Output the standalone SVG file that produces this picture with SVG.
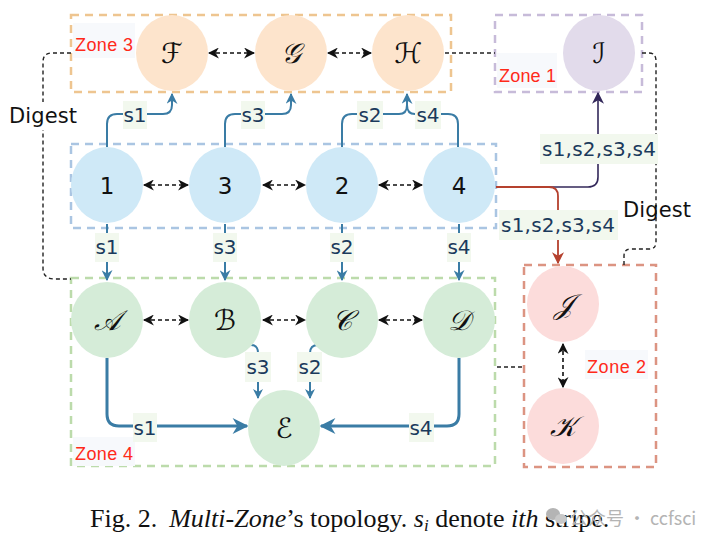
<svg xmlns="http://www.w3.org/2000/svg" width="717" height="544" viewBox="0 0 717 544">
  <style>
    .zone { fill: none; stroke-width: 2.5; stroke-dasharray: 8 6; }
    .zlabel { font-family: "Liberation Sans", "DejaVu Sans", sans-serif; font-size: 18px; fill: #ff2a1a; }
    .zbg { fill: #f7f9fc; }
    .node-o { fill: #fde4cc; }
    .node-p { fill: #e2dbeb; }
    .node-b { fill: #cfe9f7; }
    .node-g { fill: #d5ecd8; }
    .node-r { fill: #fcdcdb; }
    .cal { font-family: "DejaVu Serif", "DejaVu Sans", "Liberation Serif", serif; font-size: 28px; font-style: italic; fill: #111; text-anchor: middle; dominant-baseline: central; }
    .num { font-family: "DejaVu Sans", "Liberation Sans", sans-serif; font-size: 23px; fill: #111; text-anchor: middle; dominant-baseline: central; }
    .lbg { fill: #f2f8ee; }
    .lbl { font-family: "DejaVu Sans", "Liberation Sans", sans-serif; font-size: 20px; fill: #1b3a5c; text-anchor: middle; dominant-baseline: central; }
    .flow { fill: none; stroke: #3a7ca5; stroke-width: 2; }
    .flow-thick { fill: none; stroke: #3a7ca5; stroke-width: 3; }
    .peer { fill: none; stroke: #111; stroke-width: 1.6; stroke-dasharray: 4 3; }
    .digest { fill: none; stroke: #222; stroke-width: 1.4; stroke-dasharray: 4 3; }
    .dtext { font-family: "DejaVu Sans", "Liberation Sans", sans-serif; font-size: 21px; fill: #111; text-anchor: middle; dominant-baseline: central; }
    .caption { font-family: "Liberation Serif", "Times New Roman", serif; font-size: 26px; fill: #111; }
  </style>
  <defs>
    <marker id="ah-blue" viewBox="0 0 10 10" refX="9" refY="5" markerWidth="5.5" markerHeight="5.5" markerUnits="strokeWidth" orient="auto">
      <path d="M0,0 L10,5 L0,10 L3,5 z" fill="#3a7ca5"/>
    </marker>
    <marker id="ah-blue-thick" viewBox="0 0 10 10" refX="9" refY="5" markerWidth="10" markerHeight="10" markerUnits="userSpaceOnUse" orient="auto">
      <path d="M0,0 L10,5 L0,10 L3,5 z" fill="#3a7ca5"/>
    </marker>
    <marker id="ah-blue-big" viewBox="0 0 10 10" refX="9" refY="5" markerWidth="18" markerHeight="16" markerUnits="userSpaceOnUse" orient="auto">
      <path d="M0,0 L10,5 L0,10 L3,5 z" fill="#3a7ca5"/>
    </marker>
    <marker id="ah-purple" viewBox="0 0 10 10" refX="9" refY="5" markerWidth="12" markerHeight="12" markerUnits="userSpaceOnUse" orient="auto">
      <path d="M0,0 L10,5 L0,10 L3,5 z" fill="#33285a"/>
    </marker>
    <marker id="ah-red" viewBox="0 0 10 10" refX="9" refY="5" markerWidth="12" markerHeight="12" markerUnits="userSpaceOnUse" orient="auto">
      <path d="M0,0 L10,5 L0,10 L3,5 z" fill="#b5412e"/>
    </marker>
    <marker id="ah-black" viewBox="0 0 10 10" refX="9" refY="5" markerWidth="11" markerHeight="11" markerUnits="userSpaceOnUse" orient="auto-start-reverse">
      <path d="M0,0 L10,5 L0,10 L3,5 z" fill="#111"/>
    </marker>
  </defs>

  <rect width="717" height="544" fill="#ffffff"/>

  <!-- zone frames -->
  <g id="zones">
    <rect class="zone" x="71" y="15" width="380" height="77" stroke="#eec590"/>
    <rect class="zone" x="495" y="15" width="147" height="77" stroke="#c7bbd9"/>
    <rect class="zone" x="71" y="144" width="425" height="84" stroke="#aac5e2"/>
    <rect class="zone" x="71" y="278" width="424" height="188" stroke="#bcdbab"/>
    <rect class="zone" x="524" y="265" width="132" height="202" stroke="#dc9482"/>
  </g>

  <!-- zone captions -->
  <g id="zone-labels">
    <rect class="zbg" x="73" y="23" width="62" height="35"/>
    <text class="zlabel" x="75" y="51" textLength="58">Zone 3</text>
    <rect class="zbg" x="497" y="53" width="60" height="35"/>
    <text class="zlabel" x="499" y="82" textLength="57">Zone 1</text>
    <rect class="zbg" x="73" y="437" width="62" height="29"/>
    <text class="zlabel" x="75" y="460" textLength="58">Zone 4</text>
    <rect class="zbg" x="585" y="350" width="63" height="29"/>
    <text class="zlabel" x="587" y="373" textLength="59">Zone 2</text>
  </g>

  <!-- connectors -->
  <g id="connectors">
    <!-- digest links -->
    <path class="digest" d="M71,53 H52 Q43,53 43,62 V268 Q43,279 55,279 H71"/>
    <path class="digest" d="M445,53 H495"/>
    <path class="digest" d="M642,53 H649 Q656,53 656,61 V242 Q656,249 649,249 H631 Q624,249 624,256 V265"/>
    <path class="digest" d="M497,367 H524"/>

    <!-- peer links -->
    <path class="peer" d="M209,53 H254" marker-start="url(#ah-black)" marker-end="url(#ah-black)"/>
    <path class="peer" d="M328,53 H371" marker-start="url(#ah-black)" marker-end="url(#ah-black)"/>
    <path class="peer" d="M144,185 H188" marker-start="url(#ah-black)" marker-end="url(#ah-black)"/>
    <path class="peer" d="M263,185 H305" marker-start="url(#ah-black)" marker-end="url(#ah-black)"/>
    <path class="peer" d="M379,185 H422" marker-start="url(#ah-black)" marker-end="url(#ah-black)"/>
    <path class="peer" d="M144,320 H188" marker-start="url(#ah-black)" marker-end="url(#ah-black)"/>
    <path class="peer" d="M263,320 H305" marker-start="url(#ah-black)" marker-end="url(#ah-black)"/>
    <path class="peer" d="M379,320 H422" marker-start="url(#ah-black)" marker-end="url(#ah-black)"/>
    <path class="peer" d="M563,344 V387" marker-start="url(#ah-black)" marker-end="url(#ah-black)"/>

    <!-- stripes up to zone 3 -->
    <path class="flow" d="M107,147 V124 Q107,114 117,114 H163 Q172,114 172,105 V94" marker-end="url(#ah-blue)"/>
    <path class="flow" d="M225,147 V124 Q225,114 235,114 H282 Q291,114 291,105 V94" marker-end="url(#ah-blue)"/>
    <path class="flow" d="M342,147 V124 Q342,114 352,114 H399 Q407,114 407,105 V94" marker-end="url(#ah-blue)"/>
    <path class="flow" d="M458,147 V124 Q458,114 448,114 H415 Q407,114 407,105"/>

    <!-- stripes to zone 1 and zone 2 -->
    <path d="M496,187 H588 Q598,187 598,177 V93" fill="none" stroke="#33285a" stroke-width="1.6" marker-end="url(#ah-purple)"/>
    <path d="M496,187 H549 Q558,187 558,196 V263" fill="none" stroke="#b5412e" stroke-width="1.8" marker-end="url(#ah-red)"/>

    <!-- stripes down to zone 4 -->
    <path class="flow" d="M107,224 V280" marker-end="url(#ah-blue)"/>
    <path class="flow" d="M225,224 V280" marker-end="url(#ah-blue)"/>
    <path class="flow" d="M342,224 V280" marker-end="url(#ah-blue)"/>
    <path class="flow" d="M459,224 V280" marker-end="url(#ah-blue)"/>

    <!-- gathering into E -->
    <path class="flow" d="M251,345 Q258,345 258,353 V398" stroke-width="1.6" marker-end="url(#ah-blue-thick)"/>
    <path class="flow" d="M318,345 Q310,345 310,353 V398" stroke-width="1.6" marker-end="url(#ah-blue-thick)"/>
    <path class="flow-thick" d="M107,358 V414 Q107,426 119,426 H247" marker-end="url(#ah-blue-big)"/>
    <path class="flow-thick" d="M459,358 V414 Q459,426 447,426 H321" marker-end="url(#ah-blue-big)"/>
  </g>

  <!-- stripe labels -->
  <g id="stripe-labels">
    <rect class="lbg" x="123" y="101" width="24" height="28"/><text class="lbl" x="135" y="115">s1</text>
    <rect class="lbg" x="241" y="101" width="24" height="28"/><text class="lbl" x="253" y="115">s3</text>
    <rect class="lbg" x="357" y="101" width="26" height="28"/><text class="lbl" x="370" y="115">s2</text>
    <rect class="lbg" x="415" y="101" width="26" height="28"/><text class="lbl" x="428" y="115">s4</text>
    <rect class="lbg" x="95" y="233" width="24" height="29"/><text class="lbl" x="107" y="247">s1</text>
    <rect class="lbg" x="213" y="233" width="24" height="29"/><text class="lbl" x="225" y="247">s3</text>
    <rect class="lbg" x="330" y="233" width="24" height="29"/><text class="lbl" x="342" y="247">s2</text>
    <rect class="lbg" x="447" y="233" width="24" height="29"/><text class="lbl" x="459" y="247">s4</text>
    <rect class="lbg" x="245" y="352" width="26" height="30"/><text class="lbl" x="258" y="367">s3</text>
    <rect class="lbg" x="297" y="352" width="25" height="30"/><text class="lbl" x="310" y="367">s2</text>
    <rect class="lbg" x="133" y="413" width="24" height="29"/><text class="lbl" x="145" y="428">s1</text>
    <rect class="lbg" x="409" y="413" width="25" height="29"/><text class="lbl" x="421" y="428">s4</text>
    <rect class="lbg" x="540" y="134" width="118" height="30"/><text class="lbl" x="599" y="149" textLength="114">s1,s2,s3,s4</text>
    <rect class="lbg" x="499" y="210" width="119" height="30"/><text class="lbl" x="558" y="225" textLength="114">s1,s2,s3,s4</text>
  </g>

  <!-- digest captions -->
  <g id="digest-labels">
    <rect x="6" y="102" width="74" height="28" fill="#ffffff"/>
    <text class="dtext" x="43" y="116" textLength="68">Digest</text>
    <text class="dtext" x="657" y="210" textLength="68">Digest</text>
  </g>

  <!-- zone 3 -->
  <g id="node-F"><ellipse class="node-o" cx="172" cy="53" rx="36" ry="38"/><text class="cal" x="172" y="53">ℱ</text></g>
  <g id="node-G"><ellipse class="node-o" cx="291" cy="53" rx="36" ry="38"/><text class="cal" x="291" y="53">𝒢</text></g>
  <g id="node-H"><ellipse class="node-o" cx="408" cy="53" rx="36" ry="38"/><text class="cal" x="408" y="53">ℋ</text></g>
  <!-- zone 1 -->
  <g id="node-I"><ellipse class="node-p" cx="599" cy="53" rx="36" ry="38"/><text class="cal" x="599" y="53">ℐ</text></g>
  <!-- source row -->
  <g id="node-1"><ellipse class="node-b" cx="107" cy="185" rx="36" ry="38"/><text class="num" x="107" y="186">1</text></g>
  <g id="node-3"><ellipse class="node-b" cx="225" cy="185" rx="36" ry="38"/><text class="num" x="225" y="186">3</text></g>
  <g id="node-2"><ellipse class="node-b" cx="342" cy="185" rx="36" ry="38"/><text class="num" x="342" y="186">2</text></g>
  <g id="node-4"><ellipse class="node-b" cx="459" cy="185" rx="36" ry="38"/><text class="num" x="459" y="186">4</text></g>
  <!-- zone 4 -->
  <g id="node-A"><ellipse class="node-g" cx="107" cy="320" rx="36" ry="38"/><text class="cal" x="107" y="320">𝒜</text></g>
  <g id="node-B"><ellipse class="node-g" cx="225" cy="320" rx="36" ry="38"/><text class="cal" x="225" y="320">ℬ</text></g>
  <g id="node-C"><ellipse class="node-g" cx="342" cy="320" rx="36" ry="38"/><text class="cal" x="342" y="320">𝒞</text></g>
  <g id="node-D"><ellipse class="node-g" cx="459" cy="320" rx="36" ry="38"/><text class="cal" x="459" y="320">𝒟</text></g>
  <g id="node-E"><ellipse class="node-g" cx="284" cy="428" rx="36" ry="38"/><text class="cal" x="284" y="428">ℰ</text></g>
  <!-- zone 2 -->
  <g id="node-J"><ellipse class="node-r" cx="563" cy="304" rx="36" ry="38"/><text class="cal" x="563" y="304">𝒥</text></g>
  <g id="node-K"><ellipse class="node-r" cx="563" cy="426" rx="36" ry="38"/><text class="cal" x="563" y="426">𝒦</text></g>

  <!-- caption -->
  <text class="caption" x="90" y="527">Fig. 2.<tspan dx="12" font-style="italic">Multi-Zone</tspan>’s topology. <tspan font-style="italic">s</tspan><tspan font-style="italic" font-size="17" dy="4">i</tspan><tspan dy="-4"> denote </tspan><tspan font-style="italic">ith</tspan> stripe.</text>

  <!-- watermark -->
  <g id="watermark" fill="#b4b4b4">
    <ellipse cx="553" cy="514" rx="7" ry="6"/>
    <ellipse cx="561" cy="519" rx="6" ry="5" fill="#c8c8c8"/>
    <text x="570" y="525" font-family="'Noto Sans CJK SC', 'Noto Sans', sans-serif" font-size="18">公众号 · ccfsci</text>
  </g>
</svg>
